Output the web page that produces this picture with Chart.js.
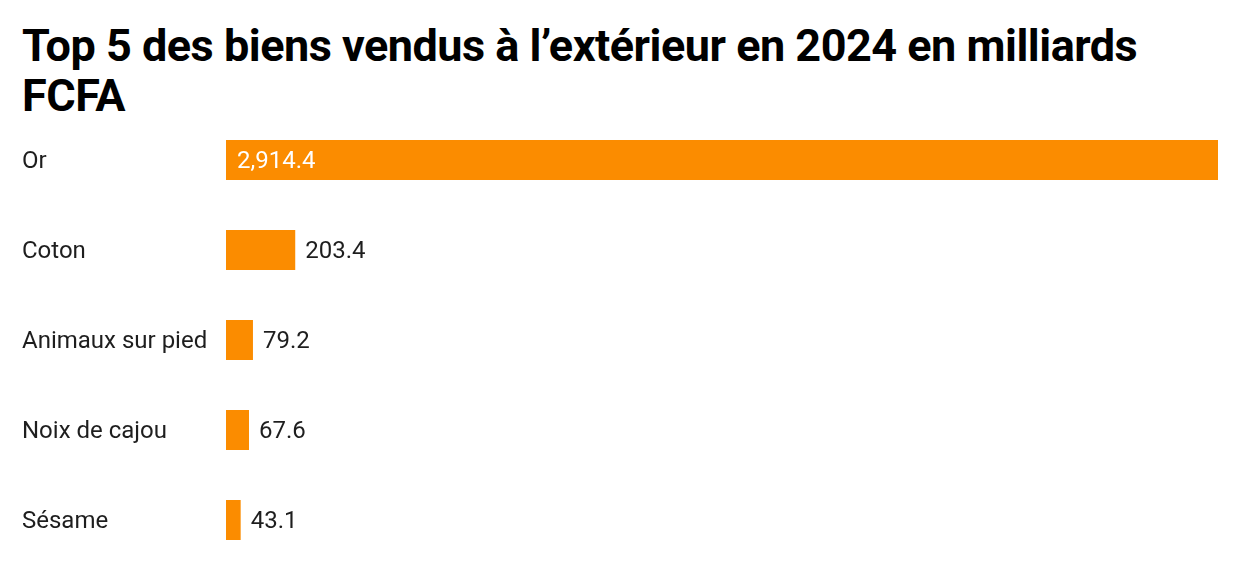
<!DOCTYPE html>
<html>
<head>
<meta charset="utf-8">
<script src="https://cdn.jsdelivr.net/npm/chart.js@4/dist/chart.umd.min.js"></script>
<style>
  html, body { margin: 0; padding: 0; background: #fff; }
  #wrap { position: relative; width: 1240px; height: 574px; }
  #title {
    position: absolute; left: 22px; top: 21px; width: 1200px;
    font-family: Roboto, sans-serif; font-weight: 700; font-size: 45px;
    line-height: 50px; color: #000; letter-spacing: -0.5px;
  }
  canvas { position: absolute; left: 0; top: 0; }
</style>
</head>
<body>
<div id="wrap">
  <div id="title">Top 5 des biens vendus à l’extérieur en 2024 en milliards FCFA</div>
  <canvas id="myChart" width="1240" height="574"></canvas>
</div>
<script>
// donnees
var categories = ["Or", "Coton", "Animaux sur pied", "Noix de cajou", "Sésame"];
var values = [2914.4, 203.4, 79.2, 67.6, 43.1];

var barColor = "#fb8c00";
var textColor = "#1e1e1e";

// etiquettes de valeur : dedans en blanc si la barre est large, sinon a droite
var valueLabels = {
    id: "valueLabels",
    afterDatasetsDraw: function (chart) {
        var ctx = chart.ctx;
        var meta = chart.getDatasetMeta(0);
        ctx.save();
        ctx.font = "24px Roboto";
        ctx.textBaseline = "middle";
        ctx.textAlign = "left";
        meta.data.forEach(function (bar, i) {
            var txt = values[i].toLocaleString("en-US", {minimumFractionDigits: 1, maximumFractionDigits: 1});
            var w = ctx.measureText(txt).width;
            if (bar.x - bar.base > w + 30) {
                ctx.fillStyle = "#ffffff";
                ctx.fillText(txt, bar.base + 11, bar.y + 2);
            } else {
                ctx.fillStyle = textColor;
                ctx.fillText(txt, bar.x + 10, bar.y + 2);
            }
        });
        ctx.restore();
    }
};

var ctx = document.getElementById("myChart").getContext("2d");
var myChart = new Chart(ctx, {
    type: "bar",
    data: {
        labels: categories,
        datasets: [{
            data: values,
            backgroundColor: barColor,
            categoryPercentage: 1,
            barPercentage: 40 / 90
        }]
    },
    options: {
        indexAxis: "y",
        responsive: false,
        animation: false,
        layout: { padding: { left: 22, right: 22, top: 115, bottom: 9 } },
        plugins: {
            legend: { display: false },
            tooltip: { enabled: false }
        },
        scales: {
            x: {
                min: 0,
                max: values[0],
                display: false
            },
            y: {
                grid: { display: false },
                border: { display: false },
                ticks: {
                    crossAlign: "far",
                    color: textColor,
                    font: { family: "Roboto", size: 24 },
                    padding: 0,
                    labelOffset: 2
                },
                afterFit: function (scale) {
                    scale.width = 204;
                    scale.paddingTop = 0;
                    scale.paddingBottom = 0;
                }
            }
        }
    },
    plugins: [valueLabels]
});
</script>
</body>
</html>
